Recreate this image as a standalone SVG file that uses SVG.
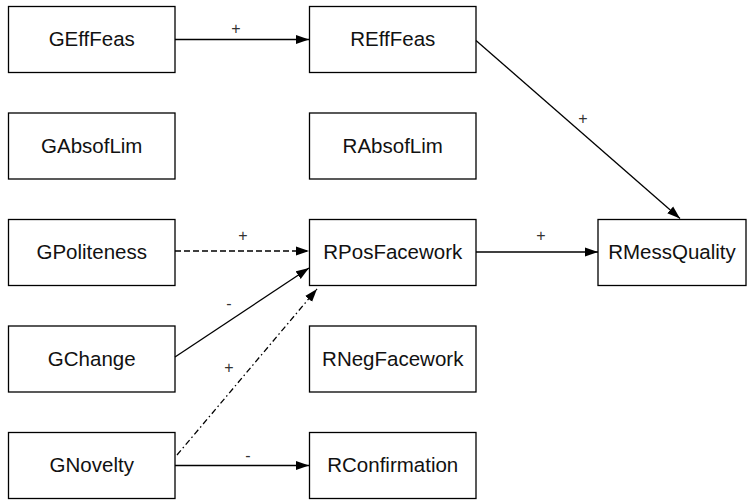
<svg xmlns="http://www.w3.org/2000/svg" width="756" height="500" viewBox="0 0 756 500">
<style>
.box{fill:#fff;stroke:#000;stroke-width:1.3}
.t{font-family:"Liberation Sans",Arial,sans-serif;font-size:20.5px;text-anchor:middle;fill:#111}
.e{fill:none;stroke:#000;stroke-width:1.3}
.l{font-family:"Liberation Sans",Arial,sans-serif;font-size:16px;text-anchor:middle;fill:#333}
</style>
<defs>
<marker id="ah" markerUnits="userSpaceOnUse" markerWidth="14" markerHeight="10" refX="13" refY="5" orient="auto">
<path d="M0,0.5 L13,5 L0,9.5 Z" fill="#000"/>
</marker>
</defs>
<rect width="756" height="500" fill="#fff"/>
<g id="GEffFeas"><rect class="box" x="8.5" y="6.5" width="166.5" height="66"/><text class="t" x="91.75" y="46">GEffFeas</text></g>
<g id="GAbsofLim"><rect class="box" x="8.5" y="113" width="166.5" height="66"/><text class="t" x="91.75" y="152.5">GAbsofLim</text></g>
<g id="GPoliteness"><rect class="box" x="8.5" y="219.5" width="166.5" height="66"/><text class="t" x="91.75" y="259">GPoliteness</text></g>
<g id="GChange"><rect class="box" x="8.5" y="326" width="166.5" height="66"/><text class="t" x="91.75" y="365.5">GChange</text></g>
<g id="GNovelty"><rect class="box" x="8.5" y="432.5" width="166.5" height="66"/><text class="t" x="91.75" y="472">GNovelty</text></g>
<g id="REffFeas"><rect class="box" x="309.5" y="6.5" width="166.5" height="66"/><text class="t" x="392.75" y="46">REffFeas</text></g>
<g id="RAbsofLim"><rect class="box" x="309.5" y="113" width="166.5" height="66"/><text class="t" x="392.75" y="152.5">RAbsofLim</text></g>
<g id="RPosFacework"><rect class="box" x="309.5" y="219.5" width="166.5" height="66"/><text class="t" x="392.75" y="259">RPosFacework</text></g>
<g id="RNegFacework"><rect class="box" x="309.5" y="326" width="166.5" height="66"/><text class="t" x="392.75" y="365.5">RNegFacework</text></g>
<g id="RConfirmation"><rect class="box" x="309.5" y="432.5" width="166.5" height="66"/><text class="t" x="392.75" y="472">RConfirmation</text></g>
<g id="RMessQuality"><rect class="box" x="598" y="219.5" width="148" height="66"/><text class="t" x="672" y="259">RMessQuality</text></g>
<g id="connectors">
<line class="e" x1="175" y1="39.5" x2="309" y2="39.5" marker-end="url(#ah)"/>
<text class="l" x="236" y="34">+</text>
<line class="e" x1="476" y1="40.5" x2="680" y2="218.5" marker-end="url(#ah)"/>
<text class="l" x="583" y="124">+</text>
<line class="e" x1="175" y1="251" x2="309" y2="251" stroke-dasharray="6,3" marker-end="url(#ah)"/>
<text class="l" x="243" y="241">+</text>
<line class="e" x1="175" y1="357" x2="309" y2="268" marker-end="url(#ah)"/>
<text class="l" x="229" y="309">-</text>
<line class="e" x1="177" y1="455" x2="317" y2="289" stroke-dasharray="6,3,1.5,3" marker-end="url(#ah)"/>
<text class="l" x="229" y="373">+</text>
<line class="e" x1="175" y1="465.5" x2="309" y2="465.5" marker-end="url(#ah)"/>
<text class="l" x="248" y="461">-</text>
<line class="e" x1="476" y1="252" x2="598" y2="252" marker-end="url(#ah)"/>
<text class="l" x="541" y="241">+</text>
</g>
</svg>
